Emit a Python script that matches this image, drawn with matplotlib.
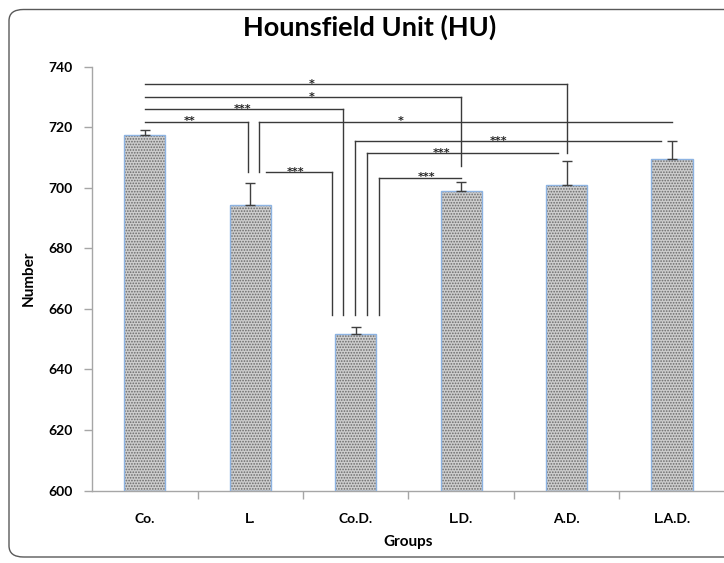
import matplotlib
matplotlib.use("Agg")
import matplotlib.pyplot as plt
from matplotlib.patches import FancyBboxPatch

plt.rcParams['font.family'] = ['Lato', 'DejaVu Sans']
plt.rcParams['hatch.linewidth'] = 0.8

categories = ['Co.', 'L.', 'Co.D.', 'L.D.', 'A.D.', 'L.A.D.']
means = [717.5, 694.3, 651.8, 698.8, 700.9, 709.5]
errors = [1.5, 7.4, 2.1, 3.0, 8.0, 6.1]
y_ticks = [600, 620, 640, 660, 680, 700, 720, 740]

# significance brackets: (x_left, x_right, y, left drop to, right drop to, label, label x)
brackets = [
    (0.0, 4.0, 734.2, None, 711.5, '*', 1.586),
    (0.0, 3.0, 730.0, None, 707.3, '*', 1.586),
    (0.0, 1.877, 725.9, None, 658.0, '***', 0.922),
    (0.0, 0.976, 721.9, None, 705.2, '**', 0.42),
    (1.086, 5.0, 721.9, 705.2, None, '*', 2.428),
    (1.147, 1.773, 705.2, None, 658.0, '***', 1.432),
    (1.991, 4.895, 715.3, 658.0, None, '***', 3.35),
    (2.105, 3.914, 711.5, 658.0, None, '***', 2.81),
    (2.222, 3.0, 703.4, 658.0, None, '***', 2.668),
]

W, H = 724, 563
fig = plt.figure(figsize=(W / 100, H / 100), dpi=100)

# outer rounded frame (right side cropped in reference)
frame = FancyBboxPatch((9 / W, 6 / H), 1.2, (H - 9.5 - 6) / H,
                       boxstyle="round,pad=0,rounding_size=0.02",
                       transform=fig.transFigure, fill=False,
                       edgecolor='#595959', linewidth=1.0, clip_on=False)
fig.patches.append(frame)

ax_left = 92.1 / W
ax_bottom = (H - 490.6) / H
ax_top = (H - 66.7) / H
ax = fig.add_axes([ax_left, ax_bottom, 1.0 - ax_left + 0.001, ax_top - ax_bottom])

x = list(range(len(categories)))
ax.bar(x, [m - 600 for m in means], bottom=600, width=0.39,
       facecolor='#cdcdcd', edgecolor='#6a6a6a', hatch='......', linewidth=0, zorder=2)
ax.bar(x, [m - 600 for m in means], bottom=600, width=0.39,
       fill=False, edgecolor='#8db3e2', linewidth=1.0, zorder=3)
ax.errorbar(x, means, yerr=[[0] * len(errors), errors], fmt='none',
            ecolor='#404040', elinewidth=1.0, capsize=3.5, capthick=1.0, zorder=4)

ax.set_xlim(-0.5, 5.5)
ax.set_ylim(600, 740)
ax.set_yticks(y_ticks)
ax.set_yticklabels([str(t) for t in y_ticks], fontsize=10, fontweight='bold')
ax.set_xticks(x)
ax.set_xticklabels(categories, fontsize=10, fontweight='bold')
ax.set_xticks([i + 0.5 for i in range(len(categories) - 1)], minor=True)
ax.tick_params(axis='x', which='major', length=0, pad=16)
ax.tick_params(axis='x', which='minor', length=6, width=1, color='#a6a6a6', direction='out')
ax.tick_params(axis='y', length=6, width=1, color='#a6a6a6', direction='out', pad=8)

for s in ['top', 'right']:
    ax.spines[s].set_visible(False)
for s in ['left', 'bottom']:
    ax.spines[s].set_color('#a6a6a6')
    ax.spines[s].set_linewidth(1.0)

ax.set_xlabel('Groups', fontsize=11, fontweight='bold', labelpad=7)
ax.set_ylabel('Number', fontsize=11, fontweight='bold', labelpad=9)

for xl, xr, y, dl, dr, lab, lx in brackets:
    ax.plot([xl, xr], [y, y], color='#3a3a3a', lw=1.0, clip_on=False, zorder=5)
    if dl is not None:
        ax.plot([xl, xl], [y, dl], color='#3a3a3a', lw=1.0, clip_on=False, zorder=5)
    if dr is not None:
        ax.plot([xr, xr], [y, dr], color='#3a3a3a', lw=1.0, clip_on=False, zorder=5)
    ax.annotate(lab, (lx, y), xytext=(0, -3.5), textcoords='offset points',
                ha='center', va='bottom', fontsize=8, fontweight='bold',
                family='DejaVu Sans', color='#222222', zorder=6)

fig.text(370 / W, 1 - 27 / H, 'Hounsfield Unit (HU)', ha='center', va='center',
         fontsize=19.5, fontweight='bold')

fig.savefig('out.png', dpi=100)
